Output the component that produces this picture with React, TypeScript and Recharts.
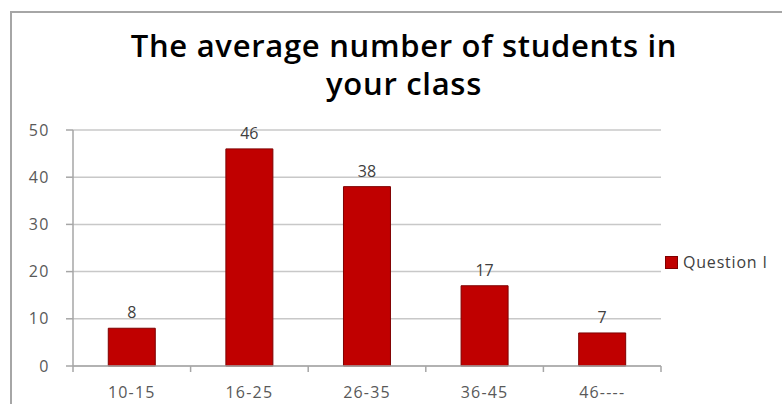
import { BarChart, Bar, XAxis, YAxis, CartesianGrid, Legend, LabelList } from "recharts";

const categories = ["10-15", "16-25", "26-35", "36-45", "46----"];
const counts = [8, 46, 38, 17, 7];
const yTicks = [0, 10, 20, 30, 40, 50];

const data = categories.map((name, i) => ({ name, value: counts[i] }));

const FONT = "'Open Sans', sans-serif";
const PLOT_LEFT = 73;
const PLOT_RIGHT = 661;
const BAND = (PLOT_RIGHT - PLOT_LEFT) / categories.length;

const renderXTick = (props: any) => {
  const { x, y, payload, index } = props;
  const left = x - BAND / 2;
  return (
    <g>
      <line x1={left} y1={y - 8} x2={left} y2={y - 2} stroke="#a6a6a6" strokeWidth={1.5} />
      {index === categories.length - 1 && (
        <line x1={x + BAND / 2} y1={y - 8} x2={x + BAND / 2} y2={y - 2} stroke="#a6a6a6" strokeWidth={1.5} />
      )}
      <text x={x} y={y + 24} textAnchor="middle" fill="#595959" fontSize={16} letterSpacing={1.2} fontFamily={FONT}>
        {payload.value}
      </text>
    </g>
  );
};

const renderLegend = () => (
  <div style={{ display: "flex", alignItems: "center", fontFamily: FONT, fontSize: 16, color: "#404040", whiteSpace: "nowrap", letterSpacing: 0.8 }}>
    <span style={{ width: 11, height: 11, background: "#c00000", border: "1px solid #7f0000", marginRight: 5 }} />
    Question I
  </div>
);

export default function App() {
  return (
    <div style={{ position: "absolute", left: 0, top: 0, width: 782, height: 404, overflow: "hidden", background: "#fff" }}>
      <div style={{ position: "absolute", left: 10, top: 11, width: 800, height: 420, border: "2px solid #a6a6a6", boxSizing: "border-box" }} />
      <div
        style={{
          position: "absolute",
          left: 0,
          top: 26,
          width: 808,
          textAlign: "center",
          fontFamily: FONT,
          fontWeight: 600,
          fontSize: 31,
          letterSpacing: 0.7,
          lineHeight: "38px",
          color: "#000",
        }}
      >
        The average number of students in
        <br />
        your class
      </div>
      <div style={{ position: "absolute", left: 0, top: 0 }}>
        <BarChart
          width={782}
          height={404}
          data={data}
          margin={{ top: 130, right: 782 - PLOT_RIGHT, bottom: 8, left: PLOT_LEFT - 60 }}
          barCategoryGap="30%"
        >
          <CartesianGrid vertical={false} stroke="#c8c8c8" strokeWidth={1.5} />
          <XAxis
            dataKey="name"
            stroke="#a6a6a6"
            strokeWidth={1.5}
            tickLine={false}
            tick={renderXTick}
            interval={0}
            height={30}
          />
          <YAxis
            width={60}
            domain={[0, 50]}
            ticks={yTicks}
            stroke="#a6a6a6"
            strokeWidth={1.5}
            tickSize={7}
            tickMargin={16}
            tick={{ fill: "#595959", fontSize: 16, fontFamily: FONT, letterSpacing: 1.5 }}
          />
          <Legend
            layout="horizontal"
            verticalAlign="middle"
            align="center"
            content={renderLegend}
            wrapperStyle={{ left: 665, top: 251, width: 117 }}
          />
          <Bar dataKey="value" name="Question I" fill="#c00000" stroke="#7f0000" strokeWidth={1} isAnimationActive={false}>
            <LabelList dataKey="value" position="top" fill="#404040" fontSize={16} fontFamily={FONT} offset={10} />
          </Bar>
        </BarChart>
      </div>
    </div>
  );
}
